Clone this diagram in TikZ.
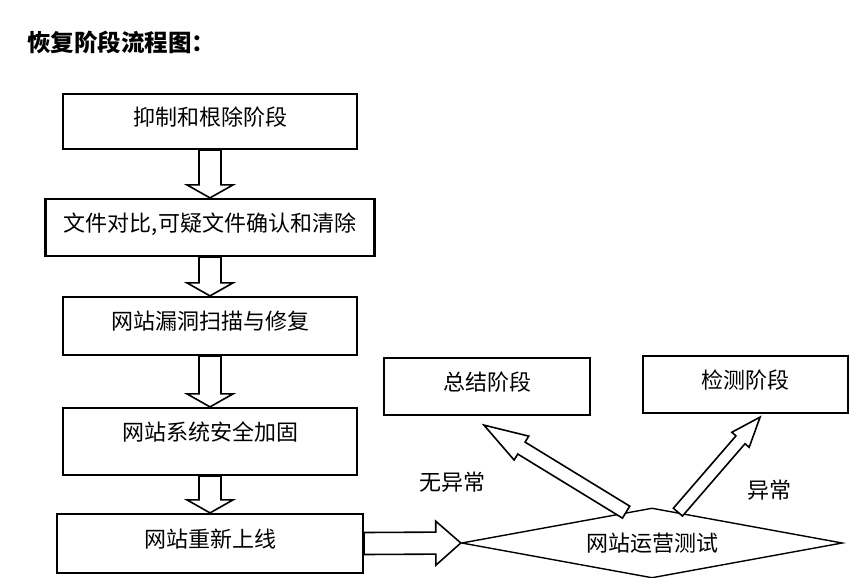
\documentclass[tikz,border=0pt]{standalone}
\usepackage{fontspec}
\setmainfont{Noto Sans CJK SC}
\usetikzlibrary{positioning,calc,shapes.geometric}

% hollow block arrow: from, to, shaft half width, head half width, head length
\newcommand{\blockarrow}[5]{%
  \draw[hollow]
    ($(#1)!#3!-90:(#2)$) --
    ($(#2)!#5!(#1)!#3!90:(#1)$) --
    ($(#2)!#5!(#1)!#4!90:(#1)$) --
    (#2) --
    ($(#2)!#5!(#1)!#4!-90:(#1)$) --
    ($(#2)!#5!(#1)!#3!-90:(#1)$) --
    ($(#1)!#3!90:(#2)$) -- cycle;}

\tikzset{
  stage/.style={draw, line width=2.2pt, inner sep=2pt, text height=16pt, text depth=9pt,
    font=\fontsize{22pt}{26pt}\selectfont},
  hollow/.style={draw, line width=1.6pt, fill=white, line join=miter},
  word/.style={inner sep=0pt, font=\fontsize{22pt}{26pt}\selectfont},
}

\begin{document}
\begin{tikzpicture}[x=1pt, y=-1pt]
  \useasboundingbox (0,0) rectangle (851,578);

  \node[word, anchor=west, font=\fontsize{23.5pt}{28pt}\selectfont\bfseries] (title) at (27,42) {恢复阶段流程图：};

  \node[stage, minimum width=294pt, minimum height=55pt] (supp) at (210,121.5) {抑制和根除阶段};
  \node[stage, below=47.8pt of supp, minimum width=329pt, minimum height=57pt] (cmp) {文件对比,可疑文件确认和清除};
  \node[stage, below=38.8pt of cmp, minimum width=294pt, minimum height=58pt] (scan) {网站漏洞扫描与修复};
  \node[stage, below=50.8pt of scan, minimum width=294pt, minimum height=67pt, text depth=18pt] (harden) {网站系统安全加固};
  \node[stage, below=36.8pt of harden, minimum width=306pt, minimum height=59pt] (online) {网站重新上线};

  \node[diamond, draw, line width=1.4pt, aspect=5.4, inner sep=2pt, minimum width=381pt, minimum height=70pt,
    font=\fontsize{22pt}{26pt}\selectfont] (test) at (652,543) {网站运营测试};

  \node[stage, minimum width=206pt, minimum height=57pt] (summary) at (487,386.5) {总结阶段};
  \node[stage, right=51pt of summary, yshift=2pt, minimum width=205pt, minimum height=57pt] (detect) {检测阶段};

  \node[word] (normal) at (452,482) {无异常};
  \node[word] (abnormal) at (769,490) {异常};

  \coordinate (sumtip) at ($(summary.south west)+(101,9)$);
  \coordinate (dettip) at ($(detect.south west)+(118,3)$);

  \blockarrow{supp.south}{cmp.north}{11pt}{23pt}{13pt}
  \blockarrow{cmp.south}{scan.north}{11pt}{23pt}{13pt}
  \blockarrow{scan.south}{harden.north}{11pt}{23pt}{13pt}
  \blockarrow{harden.south}{online.north}{11pt}{23pt}{13pt}
  \blockarrow{online.east}{test.west}{11pt}{22pt}{25pt}
  \blockarrow{test.130}{sumtip}{7pt}{14pt}{44pt}
  \blockarrow{test.50}{dettip}{6pt}{11.5pt}{30pt}

\end{tikzpicture}
\end{document}
